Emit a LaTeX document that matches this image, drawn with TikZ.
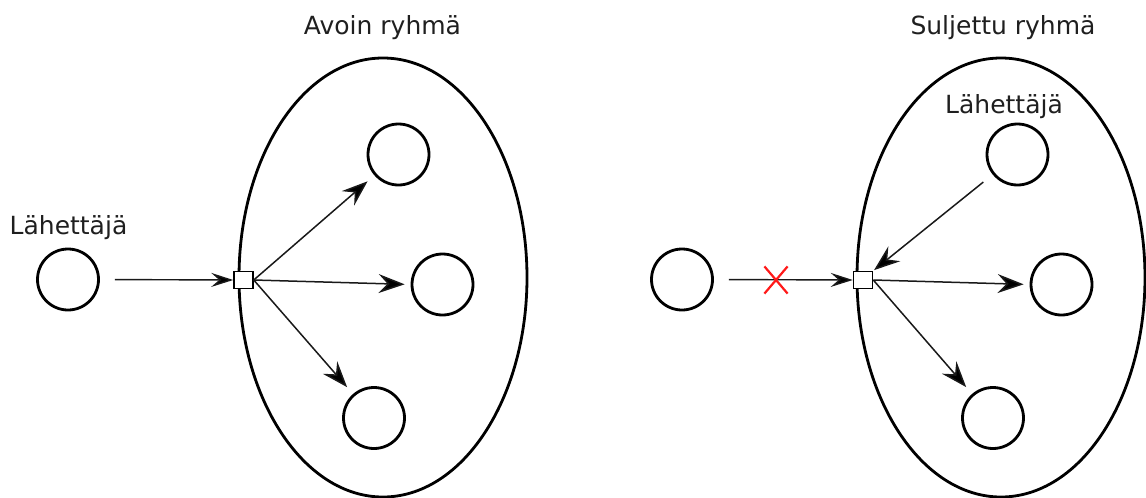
\documentclass[tikz,border=0pt]{standalone}
\usepackage{fontspec}
\setmainfont{DejaVu Sans}
\usetikzlibrary{arrows.meta,shapes.misc}
\begin{document}
\begin{tikzpicture}[x=1pt,y=-1pt,
  grp/.style={draw=black, line width=2.8pt},
  proc/.style={circle, draw=black, line width=2.8pt, minimum size=61pt, inner sep=0pt},
  port/.style={rectangle, draw=black, line width=1.5pt, fill=white, minimum width=19pt, minimum height=17pt, inner sep=0pt},
  arr/.style={draw=black!90, line width=1.5pt, -{Stealth[length=26pt,width=19pt,inset=9pt,fill=black]}},
  inarr/.style={draw=black!90, line width=1.4pt, -{Stealth[length=22pt,width=14pt,inset=8pt,fill=black]}},
  lbl/.style={font=\fontsize{25}{30}\selectfont, text=black!88, anchor=base, inner sep=0pt},
  nogo/.style={cross out, draw=red!90, line width=2.2pt, minimum width=21pt, minimum height=25pt, inner sep=0pt}
]
\useasboundingbox (0,0) rectangle (1146,498);
% groups
\draw[grp] (383,277.5) ellipse [x radius=144, y radius=219.5];
\draw[grp] (1001,277.5) ellipse [x radius=144, y radius=219.5];
% titles
\node[lbl] (t1) at (382.5,34) {Avoin ryhmä};
\node[lbl] (t2) at (1003,34) {Suljettu ryhmä};
\node[lbl] (s1) at (68.5,234) {Lähettäjä};
\node[lbl] (s2) at (1004,113) {Lähettäjä};
% open group
\node[proc] (a0) at (68,279.5) {};
\node[proc] (a1) at (398.5,154.5) {};
\node[proc] (a2) at (442.5,284.5) {};
\node[proc] (a3) at (374,418) {};
\node[port] (pa) at (243.5,280) {};
\draw[inarr, shorten <=15pt] (a0.east) -- (pa.west);
\draw[arr, shorten >=9pt] (pa.east) -- (a1);
\draw[arr, shorten >=6pt] (pa.east) -- (a2.west);
\draw[arr, shorten >=9pt] (pa.east) -- (a3);
% closed group
\node[proc] (b0) at (682,279.5) {};
\node[proc] (b1) at (1017.5,154.5) {};
\node[proc] (b2) at (1061.5,284.5) {};
\node[proc] (b3) at (993,418) {};
\node[port] (pb) at (863,280) {};
\draw[inarr, shorten <=15pt] (b0.east) -- (pb.west);
\node[nogo] (x) at (776,280) {};
\draw[arr, shorten <=12pt, shorten >=1pt] (b1) -- (pb.north east);
\draw[arr, shorten >=6pt] (pb.east) -- (b2.west);
\draw[arr, shorten >=9pt] (pb.east) -- (b3);
\end{tikzpicture}
\end{document}
